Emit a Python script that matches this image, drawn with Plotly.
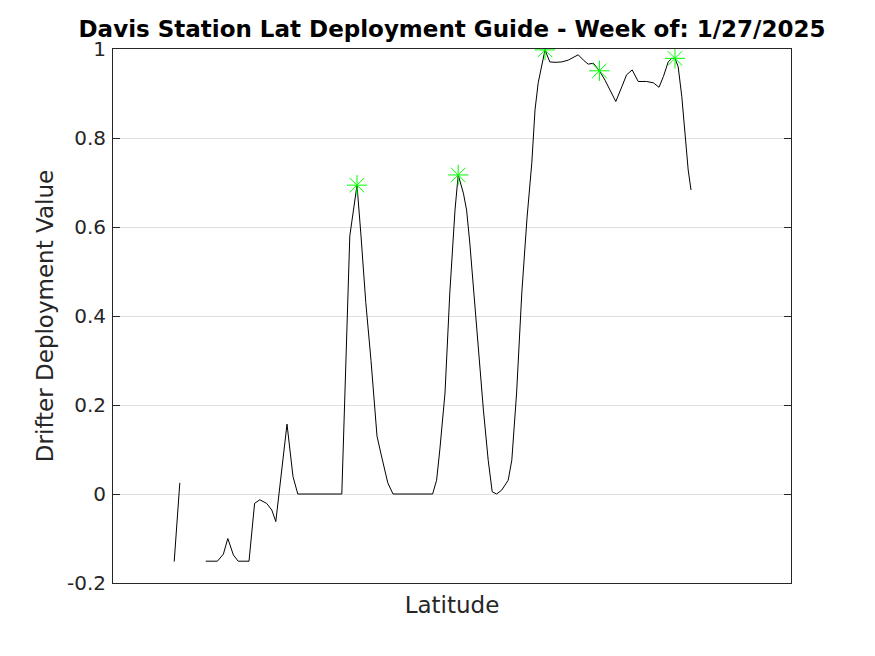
import plotly.graph_objects as go

# Latitude (deg) and deployment value; None marks gaps in the curve
lat = [-70.47, -70.33, None,
       -69.68, -69.39, -69.24, -69.13, -68.99, -68.87, -68.60, -68.46, -68.33, -68.16,
       -68.03, -67.93, -67.65, -67.58, -67.50, -67.38, -66.28, -66.08, -65.90, -65.80,
       -65.68, -65.55, -65.40, -65.30, -65.13, -65.00, -64.01, -63.91, -63.83, -63.70,
       -63.58, -63.45, -63.37, -63.24, -63.16, -63.08, -62.91, -62.74, -62.62, -62.52,
       -62.41, -62.28, -62.12, -62.03, -61.91, -61.78, -61.65, -61.53, -61.45, -61.37,
       -61.20, -61.08, -60.95, -60.78, -60.62, -60.37, -60.24, -60.12, -59.99, -59.84,
       -59.70, -59.58, -59.43, -59.28, -59.16, -59.02, -58.87, -58.66, -58.49, -58.35,
       -58.24, -58.12, -58.03, -57.95, -57.87, -57.78, -57.70, -57.62, -57.55]
value = [-0.152, 0.025, None,
         -0.151, -0.151, -0.135, -0.100, -0.137, -0.151, -0.151, -0.021, -0.013, -0.021,
         -0.036, -0.062, 0.157, 0.106, 0.039, 0.0, 0.0, 0.58, 0.694, 0.58,
         0.43, 0.30, 0.13, 0.09, 0.025, 0.0, 0.0, 0.031, 0.099, 0.227,
         0.452, 0.638, 0.717, 0.676, 0.638, 0.564, 0.375, 0.189, 0.076, 0.005,
         0.0, 0.009, 0.031, 0.076, 0.227, 0.452, 0.62, 0.744, 0.863, 0.924,
         0.998, 0.971, 0.970, 0.971, 0.975, 0.987, 0.975, 0.966, 0.968, 0.951,
         0.930, 0.908, 0.882, 0.915, 0.942, 0.953, 0.927, 0.927, 0.924, 0.914,
         0.938, 0.971, 0.979, 0.979, 0.960, 0.893, 0.803, 0.728, 0.683]

# Local peaks highlighted with green asterisks
peak_lat = [-65.90, -63.37, -61.20, -59.84, -57.95]
peak_val = [0.694, 0.717, 0.998, 0.951, 0.979]

y_ticks = [-0.2, 0, 0.2, 0.4, 0.6, 0.8, 1]
y_tick_text = ["-0.2", "0", "0.2", "0.4", "0.6", "0.8", "1"]

title_text = "Davis Station Lat Deployment Guide - Week of: 1/27/2025"

fig = go.Figure()
fig.add_trace(go.Scatter(x=lat, y=value, mode="lines",
                         line=dict(color="black", width=1),
                         connectgaps=False, showlegend=False))
fig.add_trace(go.Scatter(x=peak_lat, y=peak_val, mode="markers",
                         marker=dict(symbol="asterisk-open", size=17, color="#00ff00",
                                     line=dict(color="#00ff00", width=1)),
                         showlegend=False))

axis_color = "#262626"
# page body has an 8px margin, so the figure is drawn shifted by (8, 8)
L, T, R, B = 105, 41, 783, 575
fig.update_layout(
    width=875, height=656,
    margin=dict(l=L, r=875 - R, t=T, b=656 - B),
    paper_bgcolor="white", plot_bgcolor="white",
    font=dict(family="DejaVu Sans", color=axis_color, size=20),
    title=dict(text="<b>" + title_text + "</b>",
               x=(L + R) / 2 / 875, xanchor="center",
               y=1 - 21 / 656, yanchor="middle",
               font=dict(family="DejaVu Sans", size=23, color="black")),
    xaxis=dict(range=[-72, -55.05], showticklabels=False, ticks="",
               showgrid=False, zeroline=False,
               showline=True, linecolor=axis_color, linewidth=1, mirror=True,
               title=dict(text="Latitude", standoff=13,
                          font=dict(size=23, color=axis_color)),
               automargin=False),
    yaxis=dict(range=[-0.2, 1], tickvals=y_ticks, ticktext=y_tick_text,
               ticks="inside", ticklen=7, tickcolor=axis_color, tickwidth=1,
               showgrid=True, gridcolor="#dfdfdf", gridwidth=1,
               zeroline=False,
               showline=True, linecolor=axis_color, linewidth=1, mirror="allticks",
               tickfont=dict(size=20, color=axis_color),
               ticklabelstandoff=2,
               title=dict(text="Drifter Deployment Value", standoff=6,
                          font=dict(size=23, color=axis_color)),
               automargin=False),
)

fig.write_html("out.html")
